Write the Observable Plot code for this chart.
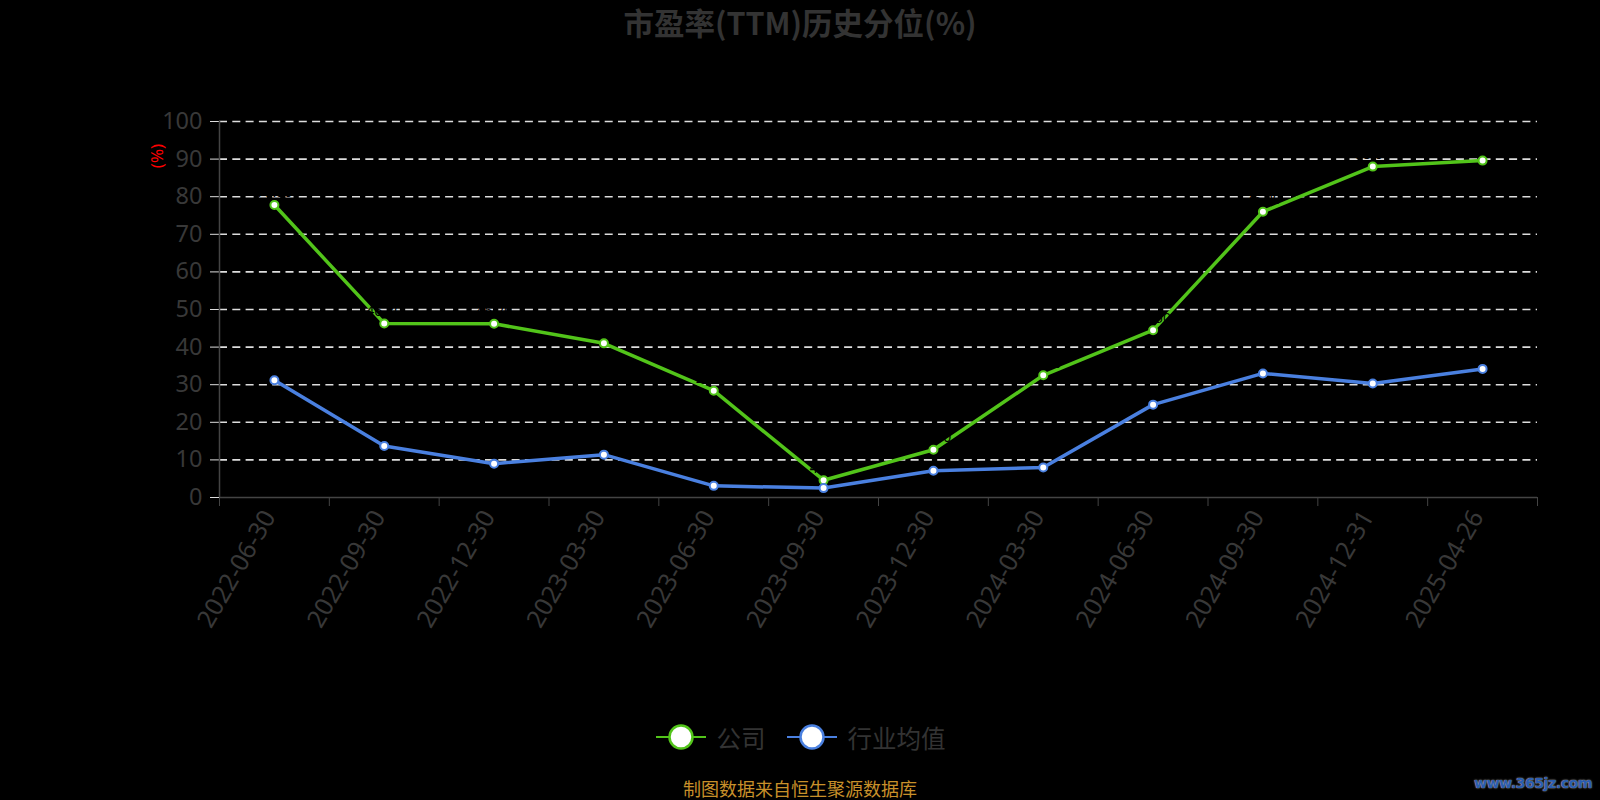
<!DOCTYPE html>
<html>
<head>
<meta charset="utf-8">
<script src="https://cdn.jsdelivr.net/npm/d3@7"></script>
<script src="https://cdn.jsdelivr.net/npm/@observablehq/plot@0.6"></script>
<style>
  html, body { margin: 0; padding: 0; background: #000; }
  #wrap { position: relative; width: 1600px; height: 800px; overflow: hidden; background: #000;
          font-family: "Noto Sans", "Noto Sans CJK SC", sans-serif; }
  #chart { position: absolute; left: 0; top: 0; }
  #title { position: absolute; left: 0; width: 1600px; top: 1px; text-align: center;
           font-family: "Noto Sans CJK SC", sans-serif; font-weight: bold; font-size: 30.5px; color: #333; line-height: 42px; }
  #ylabel { position: absolute; left: 157px; top: 156px; transform: translate(-50%, -50%) rotate(-90deg);
            color: #ff0000; font-size: 17px; line-height: 20px; white-space: nowrap; }
  #legend { position: absolute; left: 0; width: 1600px; top: 719px; height: 36px; display: flex; justify-content: center; align-items: center;
            font-family: "Noto Sans CJK SC", sans-serif; font-size: 24.5px; color: #333; }
  .item { display: flex; align-items: center; margin: 0 10px; }
  .item svg { margin-right: 10px; }
  #caption { position: absolute; left: 0; width: 1600px; top: 776px; text-align: center;
             font-family: "Noto Sans CJK SC", sans-serif; font-size: 18px; color: #c8902a; line-height: 24px; }
  #wm { position: absolute; right: 8px; top: 775px; font-family: "DejaVu Sans", sans-serif; font-weight: bold;
        font-size: 14px; color: #2a5db0; text-shadow: 0 0 1px #aaa, 0 0 2px #999; letter-spacing: -0.4px; white-space: nowrap; }
</style>
</head>
<body>
<div id="wrap">
  <div id="chart"></div>
  <div id="title"></div>
  <div id="ylabel"></div>
  <div id="legend"></div>
  <div id="caption"></div>
  <div id="wm"></div>
</div>
<script>
// ---- data ----
const titleText = "市盈率(TTM)历史分位(%)";
const yAxisLabel = "(%)";
const dates = ["2022-06-30","2022-09-30","2022-12-30","2023-03-30","2023-06-30","2023-09-30",
               "2023-12-30","2024-03-30","2024-06-30","2024-09-30","2024-12-31","2025-04-26"];
const company  = [77.8, 46.3, 46.2, 41.0, 28.4, 4.6, 12.7, 32.5, 44.5, 76.0, 88.0, 89.6];
const industry = [31.2, 13.7, 9.0, 11.4, 3.1, 2.5, 7.1, 8.0, 24.7, 33.0, 30.3, 34.2];
const seriesNames = ["公司", "行业均值"];
const seriesColors = ["#52c41a", "#4a80e0"];
const yTicks = [0, 10, 20, 30, 40, 50, 60, 70, 80, 90, 100];
const captionText = "制图数据来自恒生聚源数据库";
const watermark = "www.365jz.com";

// ---- build rows ----
const rowsC = dates.map((d, i) => ({ pos: i + 0.5, date: d, v: company[i] }));
const rowsI = dates.map((d, i) => ({ pos: i + 0.5, date: d, v: industry[i] }));
const boundaries = d3.range(dates.length + 1);
const centers = dates.map((d, i) => i + 0.5);

const chart = Plot.plot({
  width: 1600,
  height: 800,
  marginLeft: 219,
  marginRight: 63,
  marginTop: 121,
  marginBottom: 303,
  style: { background: "transparent", fontFamily: '"Noto Sans", "Noto Sans CJK SC", sans-serif', overflow: "visible" },
  x: { type: "linear", domain: [0, dates.length] },
  y: { domain: [0, 100] },
  marks: [
    Plot.ruleY(yTicks.filter(t => t > 0), { stroke: "#dddddd", strokeWidth: 1.6, strokeDasharray: "8,5.3" }),
    Plot.axisY({ ticks: yTicks, tickSize: 9, tickPadding: 8, fontSize: 23.5, fill: "#383838", stroke: "#dddddd", label: null }),
    Plot.ruleX([0], { stroke: "#444", strokeWidth: 1.5 }),
    Plot.ruleY([0], { stroke: "#444", strokeWidth: 1.5 }),
    Plot.axisX({ ticks: boundaries, tickFormat: () => "", tickSize: 9, stroke: "#444", label: null }),
    Plot.axisX({ ticks: centers, tickFormat: p => dates[Math.floor(p)], tickSize: 0, tickPadding: 15, dx: -5,
                 tickRotate: -60, fontSize: 25, fill: "#383838", label: null }),
    Plot.line(rowsC, { x: "pos", y: "v", stroke: seriesColors[0], strokeWidth: 3.5 }),
    Plot.dot(rowsC, { x: "pos", y: "v", r: 4, fill: "#fff", stroke: seriesColors[0], strokeWidth: 2 }),
    Plot.text(rowsC, { x: "pos", y: "v", text: d => d.v.toFixed(2), dy: -12, fill: "#000", fontSize: 14 }),
    Plot.line(rowsI, { x: "pos", y: "v", stroke: seriesColors[1], strokeWidth: 3.5 }),
    Plot.dot(rowsI, { x: "pos", y: "v", r: 4, fill: "#fff", stroke: seriesColors[1], strokeWidth: 2 })
  ]
});
document.getElementById("chart").appendChild(chart);

document.getElementById("title").textContent = titleText;
document.getElementById("ylabel").textContent = yAxisLabel;
document.getElementById("caption").textContent = captionText;
document.getElementById("wm").textContent = watermark;

const legend = document.getElementById("legend");
seriesNames.forEach((name, k) => {
  const item = document.createElement("div");
  item.className = "item";
  item.innerHTML = `<svg width="52" height="30"><line x1="1" y1="15" x2="51" y2="15" stroke="${seriesColors[k]}" stroke-width="2"/>` +
    `<circle cx="26" cy="15" r="11.5" fill="#fff" stroke="${seriesColors[k]}" stroke-width="2.5"/></svg><span>${name}</span>`;
  legend.appendChild(item);
});
</script>
</body>
</html>
